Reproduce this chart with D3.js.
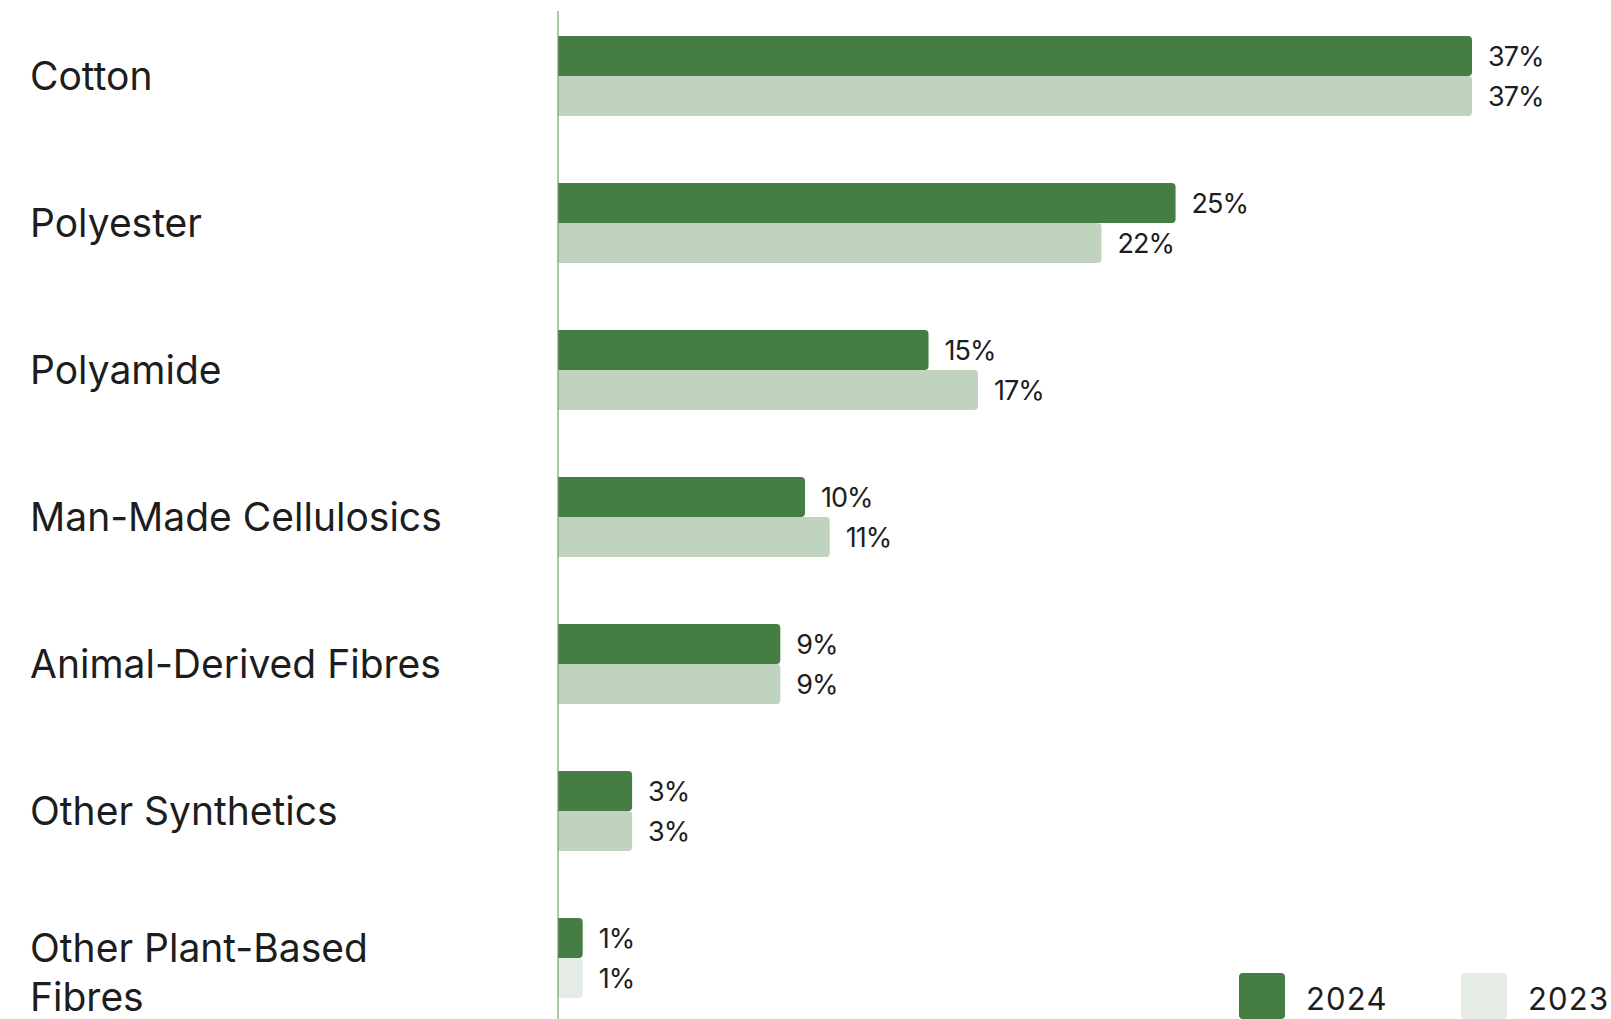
<!DOCTYPE html>
<html>
<head>
<meta charset="utf-8">
<script src="https://cdn.jsdelivr.net/npm/d3@7"></script>
<style>
  html, body { margin: 0; padding: 0; background: #ffffff; }
  svg { display: block; }
  text { font-family: "Inter", "Noto Sans", sans-serif; fill: #1d1d1d; }
</style>
</head>
<body>
<svg id="chart" width="1611" height="1019"></svg>
<script>
// Fibre mix by share of total volume, 2024 vs 2023
const categories = ["Cotton", "Polyester", "Polyamide", "Man-Made Cellulosics",
                    "Animal-Derived Fibres", "Other Synthetics", "Other Plant-Based Fibres"];
const years = ["2024", "2023"];
const values2024 = [37, 25, 15, 10, 9, 3, 1];
const values2023 = [37, 22, 17, 11, 9, 3, 1];

const series = { "2024": values2024, "2023": values2023 };
const colors = { "2024": "#467d43", "2023": "#bfd3be" };
const legendColors = { "2024": "#467d43", "2023": "#e4ece5" };

const svg = d3.select("#chart");
const width = 1611, height = 1019;
const axisX = 558;

const x = d3.scaleLinear().domain([0, 37]).range([axisX, 1472]);

const y = d3.scaleBand()
  .domain(categories)
  .range([2.5, 2.5 + 7 * 147])
  .paddingInner(0.456)
  .paddingOuter(0.228);

const ySub = d3.scaleBand().domain(years).range([0, y.bandwidth()]).padding(0);

// bar with rounded right-hand corners only
function barPath(x0, y0, w, h, r) {
  r = Math.min(r, w, h / 2);
  return `M${x0},${y0}H${x0 + w - r}Q${x0 + w},${y0} ${x0 + w},${y0 + r}` +
         `V${y0 + h - r}Q${x0 + w},${y0 + h} ${x0 + w - r},${y0 + h}H${x0}Z`;
}

const groups = svg.append("g").selectAll("g")
  .data(categories)
  .join("g")
  .attr("transform", d => `translate(0,${y(d)})`);

years.forEach(yr => {
  groups.append("path")
    .attr("d", (d, i) => barPath(x(0), ySub(yr), x(series[yr][i]) - x(0), ySub.bandwidth(), 4))
    .attr("fill", (d, i) => (yr === "2023" && i === categories.length - 1) ? legendColors["2023"] : colors[yr]);

  groups.append("text")
    .attr("x", (d, i) => x(series[yr][i]) + 16)
    .attr("y", ySub(yr) + ySub.bandwidth() / 2)
    .attr("dy", "0.36em")
    .attr("font-size", 27)
    .attr("letter-spacing", "-1px")
    .text((d, i) => series[yr][i] + "%");
});

// category labels, wrapped when too wide
const labelFont = 39;
groups.append("text")
  .attr("x", 30)
  .attr("y", y.bandwidth() / 2)
  .attr("font-size", labelFont)
  .each(function (d) {
    const t = d3.select(this);
    const words = d.split(" ");
    const lines = [];
    let line = [];
    const probe = t.append("tspan");
    words.forEach(w => {
      const trial = line.concat(w).join(" ");
      probe.text(trial);
      if (probe.node().getComputedTextLength() > 440 && line.length) {
        lines.push(line.join(" "));
        line = [w];
      } else {
        line.push(w);
      }
    });
    lines.push(line.join(" "));
    probe.remove();
    const first = lines.length > 1 ? -10 : 0;
    lines.forEach((ln, k) => {
      t.append("tspan")
        .attr("x", 30)
        .attr("y", y.bandwidth() / 2 + first + k * 49)
        .attr("dy", "0.36em")
        .text(ln);
    });
  });

// baseline axis
svg.append("line")
  .attr("x1", axisX).attr("x2", axisX)
  .attr("y1", 11).attr("y2", height)
  .attr("stroke", "#6f9f6c")
  .attr("stroke-width", 1.2);

// legend
const legend = svg.append("g");
const legendX = { "2024": 1239, "2023": 1461 };
years.forEach(yr => {
  const g = legend.append("g").attr("transform", `translate(${legendX[yr]},973)`);
  g.append("rect").attr("width", 46).attr("height", 46).attr("rx", 4)
    .attr("fill", legendColors[yr]);
  g.append("text")
    .attr("x", 67).attr("y", 37)
    .attr("font-size", 31)
    .attr("letter-spacing", "1.2px")
    .text(yr);
});
</script>
</body>
</html>
